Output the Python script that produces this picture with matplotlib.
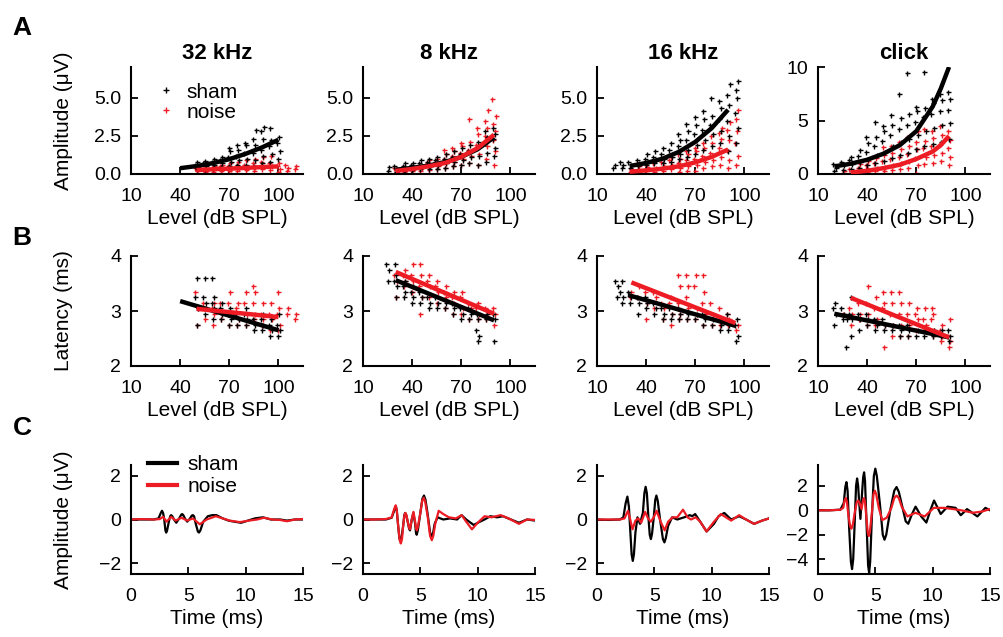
import matplotlib
matplotlib.use("Agg")
import matplotlib.pyplot as plt

plt.rcParams['font.family'] = ['Liberation Sans', 'DejaVu Sans']

RED = '#ed1c24'

# ---------------- data ----------------
# row A: amplitude (uV) per level (dB SPL)
a32_sham_lv = [50, 55, 60, 65, 70, 75, 80, 85, 90, 95, 100]
a32_sham = [[0.3, 0.45, 0.6, 0.8], [0.35, 0.5, 0.7, 0.85], [0.4, 0.6, 0.8, 1.0],
            [0.45, 0.7, 0.9, 1.1], [0.5, 0.8, 1.1, 1.5, 1.7], [0.6, 0.9, 1.2, 1.6, 1.9],
            [0.6, 1.0, 1.4, 1.9, 2.0], [0.5, 0.9, 1.4, 1.9, 2.3, 2.9], [0.7, 1.2, 1.6, 2.3, 2.8, 3.1],
            [0.8, 1.3, 1.8, 2.2, 3.0], [1.0, 1.5, 2.0, 2.4]]
a32_noise_lv = [50, 55, 60, 65, 70, 75, 80, 85, 90, 95, 100, 105, 110]
a32_noise = [[0.2, 0.3, 0.4], [0.1, 0.2, 0.35, 0.5], [0.15, 0.3, 0.4, 0.55], [0.2, 0.35, 0.5, 0.6],
             [0.2, 0.35, 0.5, 0.7], [0.2, 0.4, 0.55, 0.8], [0.25, 0.4, 0.6, 0.9], [0.2, 0.45, 0.7, 1.0],
             [0.3, 0.5, 0.8, 1.1], [0.25, 0.5, 0.7, 1.2], [0.1, 0.3, 0.5, 0.7], [0.2, 0.4, 0.6], [0.3, 0.5]]
a32_fit_sham = ([40, 50, 60, 70, 80, 90, 100], [0.38, 0.52, 0.71, 0.97, 1.32, 1.74, 2.24])
a32_fit_noise = ([50, 60, 70, 80, 90, 100], [0.26, 0.31, 0.35, 0.4, 0.45, 0.5])

a8_sham_lv = [25, 30, 35, 40, 45, 50, 55, 60, 65, 70, 75, 80, 85, 90]
a8_sham = [[0.2, 0.45], [0.15, 0.3, 0.5], [0.2, 0.35, 0.55, 0.7], [0.25, 0.4, 0.6, 0.75],
           [0.3, 0.5, 0.7, 0.9], [0.3, 0.55, 0.8, 1.0], [0.35, 0.6, 0.9, 1.1], [0.4, 0.7, 1.0, 1.3],
           [0.5, 0.8, 1.1, 1.5], [0.6, 0.9, 1.3, 1.7], [0.7, 1.1, 1.5, 1.9], [0.6, 1.2, 1.7, 2.1],
           [0.8, 1.4, 2.0, 2.4, 2.8], [1.2, 1.7, 2.3, 2.6, 3.0]]
a8_noise_lv = [30, 35, 40, 45, 50, 55, 60, 65, 70, 75, 80, 85, 90]
a8_noise = [[0.1, 0.25, 0.4], [0.15, 0.3, 0.45], [0.2, 0.35, 0.5], [0.2, 0.4, 0.6],
            [0.25, 0.5, 0.7, 0.9], [0.3, 0.55, 0.8, 1.0], [0.4, 0.7, 1.0, 1.3, 1.6],
            [0.5, 0.8, 1.2, 1.5, 1.7], [0.6, 1.0, 1.4, 1.8, 2.0], [0.7, 1.2, 1.6, 2.1, 3.6],
            [0.6, 1.3, 1.9, 2.6, 3.0], [1.0, 1.8, 2.5, 3.0, 3.5, 4.2], [0.6, 1.5, 2.2, 2.8, 3.3, 3.8, 4.9]]
a8_fit_sham = ([30, 40, 50, 60, 70, 80, 90], [0.28, 0.4, 0.55, 0.78, 1.12, 1.62, 2.4])
a8_fit_noise = ([30, 40, 50, 60, 70, 80, 90], [0.2, 0.33, 0.5, 0.72, 1.12, 1.7, 2.57])

a16_sham_lv = [20, 25, 30, 35, 40, 45, 50, 55, 60, 65, 70, 75, 80, 85, 90, 95]
a16_sham = [[0.4, 0.6], [0.4, 0.6, 0.8], [0.4, 0.6, 0.8], [0.5, 0.7, 0.9], [0.6, 0.8, 1.0, 1.3],
            [0.7, 0.9, 1.1, 1.5], [0.7, 1.0, 1.3, 1.7], [0.8, 1.1, 1.6, 2.0], [1.0, 1.3, 1.8, 2.2, 2.6],
            [1.1, 1.6, 2.2, 2.8, 3.3], [1.3, 1.9, 2.6, 3.2, 3.7], [1.6, 2.2, 2.9, 3.6, 4.1],
            [1.8, 2.6, 3.2, 3.8, 5.0], [2.0, 2.8, 3.6, 4.3, 4.8], [1.5, 2.5, 3.5, 4.5, 5.2, 5.9],
            [2.0, 3.0, 4.0, 5.0, 5.5, 6.1]]
a16_noise_lv = [30, 35, 40, 45, 50, 55, 60, 65, 70, 75, 80, 85, 90, 95]
a16_noise = [[0.1, 0.3], [0.2, 0.5], [0.2, 0.45, 0.7], [0.15, 0.4, 0.7], [0.2, 0.5, 0.8],
             [0.3, 0.6, 0.9, 1.1], [0.1, 0.4, 0.7, 1.0, 1.3], [0.2, 0.5, 0.9, 1.3, 1.5],
             [0.2, 0.6, 1.0, 1.5, 1.7], [0.4, 0.8, 1.2, 1.7, 2.0], [0.5, 0.9, 1.4, 2.0, 2.5],
             [0.6, 1.1, 1.7, 2.3, 2.7, 3.0], [0.4, 0.9, 1.6, 2.2, 2.9, 3.4], [0.6, 1.2, 2.0, 2.8, 3.6, 4.2]]
a16_fit_sham = ([30, 40, 50, 60, 70, 80, 90], [0.52, 0.72, 1.0, 1.45, 2.1, 3.0, 4.2])
a16_fit_noise = ([30, 40, 50, 60, 70, 80, 90], [0.15, 0.24, 0.35, 0.5, 0.76, 1.12, 1.6])

ack_sham_lv = [20, 25, 30, 35, 40, 45, 50, 55, 60, 65, 70, 75, 80, 85, 90]
ack_sham = [[0.3, 0.6, 0.9], [0.4, 0.8, 1.1], [0.5, 0.9, 1.3, 1.6], [0.6, 1.1, 1.7, 2.2],
            [0.8, 1.4, 2.1, 2.9, 3.5], [1.0, 1.8, 2.6, 3.5, 4.9], [1.2, 2.1, 3.1, 4.0, 4.5],
            [1.5, 2.6, 3.6, 4.6, 5.5], [1.8, 3.0, 4.2, 5.2, 7.5], [2.0, 3.3, 4.6, 5.6, 9.4],
            [2.3, 3.6, 4.9, 5.9, 6.3], [2.6, 4.0, 5.3, 6.2, 9.5], [2.8, 4.3, 5.6, 6.6, 7.0],
            [3.0, 4.6, 5.9, 6.9, 7.5], [3.3, 4.8, 6.0, 7.0, 7.7]]
ack_noise_lv = [25, 30, 35, 40, 45, 50, 55, 60, 65, 70, 75, 80, 85, 90]
ack_noise = [[0.1, 0.3], [0.1, 0.3, 0.5], [0.2, 0.4, 0.6, 0.9], [0.2, 0.5, 0.8, 1.2],
             [0.3, 0.6, 1.0, 1.5], [0.3, 0.7, 1.2, 1.8, 2.5], [0.4, 0.8, 1.4, 2.0, 2.6],
             [0.5, 1.0, 1.6, 2.3, 3.0], [0.6, 1.2, 1.9, 2.6, 3.5], [0.1, 0.8, 1.5, 2.3, 3.0, 4.0],
             [0.9, 1.6, 2.4, 3.1, 4.2], [1.0, 1.8, 2.6, 3.4, 4.0], [1.2, 2.0, 2.8, 3.6, 4.5],
             [0.8, 1.6, 2.4, 3.2, 4.0]]
ack_fit_sham = ([20, 30, 40, 50, 60, 70, 80, 85, 90], [0.71, 0.96, 1.33, 1.9, 2.7, 4.0, 6.3, 8.0, 10.0])
ack_fit_noise = ([30, 40, 50, 60, 70, 80, 85, 90], [0.15, 0.3, 0.55, 0.87, 1.4, 2.1, 2.7, 3.55])

# row B: latency (ms) per level
l32_sham_lv = [50, 55, 60, 65, 70, 75, 80, 85, 90, 95, 100]
l32_sham = [[2.75, 3.05, 3.25, 3.6], [2.95, 3.15, 3.25, 3.6], [2.85, 3.05, 3.15, 3.25, 3.6],
            [2.85, 2.95, 3.05, 3.15], [2.75, 2.85, 2.95, 3.05], [2.75, 2.85, 2.95],
            [2.75, 2.85, 2.95, 3.05], [2.65, 2.75, 2.85], [2.65, 2.75, 2.85, 2.95],
            [2.55, 2.65, 2.75, 2.85], [2.55, 2.65, 2.75, 2.95]]
l32_noise_lv = [50, 55, 60, 65, 70, 75, 80, 85, 90, 95, 100, 105, 110]
l32_noise = [[2.75, 3.05, 3.35], [2.85, 3.05, 3.15], [2.75, 2.95, 3.05, 3.15], [2.85, 2.95, 3.15],
             [2.75, 2.95, 3.15, 3.35], [2.75, 2.85, 3.05, 3.15], [2.75, 2.95, 3.15, 3.35],
             [2.85, 2.95, 3.15, 3.35, 3.45], [2.75, 2.85, 2.95, 3.15], [2.65, 2.85, 2.95, 3.15],
             [2.65, 2.75, 2.95, 3.05, 3.35], [2.95, 3.05], [2.85, 2.95]]
l32_fit_sham = ([40, 100], [3.18, 2.65])
l32_fit_noise = ([50, 100], [3.04, 2.89])

l8_sham_lv = [25, 30, 35, 40, 45, 50, 55, 60, 65, 70, 75, 80, 85, 90]
l8_sham = [[3.55, 3.75, 3.85], [3.25, 3.45, 3.55, 3.65, 3.85], [3.25, 3.35, 3.45, 3.55],
           [3.15, 3.25, 3.35, 3.45], [3.15, 3.25, 3.35], [3.05, 3.15, 3.25], [3.05, 3.15, 3.25],
           [3.05, 3.15], [2.95, 3.05, 3.15], [2.85, 2.95, 3.05], [2.85, 2.95, 3.05],
           [2.45, 2.55, 2.65, 2.85, 2.95], [2.85, 2.95], [2.45, 2.85, 2.95]]
l8_noise_lv = [30, 35, 40, 45, 50, 55, 60, 65, 70, 75, 80, 85, 90]
l8_noise = [[3.25, 3.55, 3.65], [3.45, 3.55, 3.65, 3.75], [3.35, 3.55, 3.65, 3.85],
            [2.95, 3.25, 3.45, 3.65, 3.85], [3.25, 3.45, 3.55, 3.65], [3.15, 3.35, 3.45, 3.55],
            [3.05, 3.25, 3.35, 3.45], [2.95, 3.15, 3.25, 3.35], [2.95, 3.05, 3.25, 3.35],
            [2.85, 3.05, 3.15], [2.85, 2.95, 3.05, 3.15], [2.85, 2.95, 3.05], [2.75, 2.95, 3.05]]
l8_fit_sham = ([30, 90], [3.56, 2.83])
l8_fit_noise = ([30, 90], [3.71, 2.95])

l16_sham_lv = [22, 25, 30, 35, 40, 45, 50, 55, 60, 65, 70, 75, 80, 85, 90, 95]
l16_sham = [[3.25, 3.45, 3.55], [3.15, 3.25, 3.35, 3.55], [3.15, 3.25, 3.35], [2.95, 3.15, 3.25],
            [3.05, 3.15, 3.25], [2.95, 3.05, 3.15], [2.85, 2.95, 3.05], [2.85, 2.95, 3.05],
            [2.85, 2.95, 3.05], [2.85, 2.95], [2.85, 2.95], [2.75, 2.85, 2.95], [2.75, 2.85],
            [2.65, 2.75, 2.85], [2.65, 2.75, 2.95], [2.45, 2.55, 2.75, 2.85]]
l16_noise_lv = [30, 35, 40, 45, 50, 55, 60, 65, 70, 75, 80, 85, 90, 95]
l16_noise = [[3.25, 3.35], [3.25, 3.45], [2.85, 3.15, 3.35], [3.05, 3.25, 3.35], [2.85, 3.05, 3.15],
             [2.75, 2.95, 3.15, 3.25], [2.85, 2.95, 3.15, 3.45, 3.65], [2.85, 3.05, 3.25, 3.45, 3.65],
             [2.85, 3.05, 3.45, 3.65], [2.75, 2.95, 3.15, 3.35, 3.65], [2.75, 2.95, 3.15],
             [2.75, 2.85, 3.05], [2.75, 2.85, 2.95], [2.65, 2.75]]
l16_fit_sham = ([29, 94.5], [3.29, 2.73])
l16_fit_noise = ([31, 94.5], [3.52, 2.78])

lck_sham_lv = [20, 25, 27, 30, 35, 40, 45, 50, 55, 60, 65, 70, 75, 80, 85, 90]
lck_sham = [[2.75, 2.95, 3.05, 3.15], [2.85, 2.95, 3.05], [2.35, 2.85], [2.55, 2.85, 2.95, 3.25],
            [2.65, 2.85, 2.95], [2.75, 2.85, 2.95], [2.65, 2.75, 2.85], [2.65, 2.75, 2.85],
            [2.65, 2.75], [2.55, 2.65, 2.75], [2.55, 2.65, 2.75], [2.55, 2.65], [2.55, 2.65],
            [2.55, 2.65], [2.55, 2.65], [2.45, 2.55, 2.65]]
lck_noise_lv = [25, 30, 35, 40, 45, 50, 55, 60, 65, 70, 75, 80, 85, 90]
lck_noise = [[2.95], [2.75, 2.95, 3.05], [2.85, 2.95, 3.15], [2.75, 2.95, 3.15, 3.45],
             [2.75, 2.85, 3.05, 3.25], [2.35, 2.75, 3.05, 3.15, 3.35], [2.55, 2.75, 2.95, 3.15, 3.35],
             [2.55, 2.75, 2.95, 3.15, 3.35], [2.55, 2.75, 2.95, 3.15], [2.65, 2.85, 2.95, 3.05],
             [2.65, 2.75, 2.85, 3.05], [2.55, 2.65, 2.85, 2.95, 3.05], [2.45, 2.55, 2.65, 2.75],
             [2.35, 2.45, 2.55, 2.85]]
lck_fit_sham = ([20, 90], [2.95, 2.52])
lck_fit_noise = ([30, 90], [3.24, 2.52])

# row C: mean waveforms (time ms, amplitude uV)
w32_sham = [(0, 0), (1, 0), (2, 0), (2.4, 0.05), (2.6, 0.3), (2.7, 0.4), (2.8, 0.3), (2.9, 0.0),
            (3.0, -0.5), (3.07, -0.6), (3.15, -0.5), (3.3, -0.1), (3.42, 0.15), (3.5, 0.2),
            (3.6, 0.15), (3.75, 0.0), (3.95, -0.15), (4.2, 0.05), (4.38, 0.22), (4.47, 0.25),
            (4.56, 0.2), (4.7, 0.05), (4.9, -0.1), (5.15, 0.05), (5.3, 0.18), (5.4, 0.2),
            (5.5, 0.15), (5.65, -0.2), (5.83, -0.55), (5.93, -0.6), (6.05, -0.5), (6.3, -0.1),
            (6.7, 0.15), (7.1, 0.2), (7.45, 0.2), (8.0, 0.05), (8.5, -0.05), (9.0, -0.1),
            (9.6, -0.15), (10.2, -0.05), (10.8, 0.05), (11.5, 0.1), (12.2, 0.0), (13.0, 0.0),
            (13.6, -0.05), (14.3, 0.0), (15, 0)]
w32_noise = [(0, 0), (1, 0.02), (2, 0), (2.5, 0.02), (2.8, 0.12), (3.1, -0.1), (3.5, 0.12),
             (3.9, -0.05), (4.4, 0.08), (4.9, -0.05), (5.4, 0.05), (6.0, -0.22), (6.6, 0.0),
             (7.4, 0.15), (8.0, 0.05), (8.6, -0.05), (9.5, -0.12), (10.3, -0.05), (11.0, 0.0),
             (11.6, 0.08), (12.3, 0.0), (13.0, -0.02), (13.6, -0.08), (14.3, 0.0), (15, 0.02)]
w8_sham = [(0, 0), (1, 0), (2, 0), (2.5, 0.08), (2.75, 0.45), (2.87, 0.6), (2.95, 0.4), (3.05, -0.2),
           (3.17, -0.85), (3.27, -1.0), (3.37, -0.8), (3.5, -0.3), (3.6, 0.2), (3.68, 0.3),
           (3.77, 0.2), (3.9, -0.1), (4.02, -0.42), (4.1, -0.5), (4.25, 0.0), (4.39, 0.3),
           (4.55, -0.2), (4.62, -0.6), (4.68, -0.7), (4.78, -0.5), (5.0, 0.3), (5.18, 0.95),
           (5.32, 1.1), (5.45, 0.9), (5.65, 0.2), (5.85, -0.6), (6.0, -0.8), (6.12, -0.6),
           (6.25, -0.2), (6.5, 0.1), (7.0, 0.0), (7.6, 0.05), (8.2, 0.0), (8.6, 0.2), (9.0, 0.0),
           (9.65, -0.25), (10.2, -0.1), (10.6, 0.0), (11.1, 0.15), (11.7, 0.1), (12.2, 0.15),
           (12.9, 0.0), (13.6, -0.15), (14.3, 0.0), (15, -0.05)]
w8_noise = [(0, 0), (1, 0), (2, 0.02), (2.5, 0.1), (2.73, 0.5), (2.85, 0.65), (2.94, 0.45),
            (3.05, -0.2), (3.2, -0.95), (3.3, -1.1), (3.4, -0.9), (3.5, -0.3), (3.62, 0.2),
            (3.7, 0.3), (3.79, 0.2), (3.9, -0.1), (4.02, -0.38), (4.1, -0.45), (4.25, 0.0),
            (4.4, 0.35), (4.55, -0.1), (4.63, -0.42), (4.7, -0.5), (4.8, -0.3), (5.0, 0.3),
            (5.17, 0.88), (5.3, 1.0), (5.43, 0.8), (5.65, 0.1), (5.85, -0.75), (6.0, -0.95),
            (6.13, -0.75), (6.3, -0.2), (6.6, 0.4), (7.0, 0.25), (7.5, 0.1), (8.1, 0.05),
            (8.6, 0.2), (9.0, -0.1), (9.5, -0.45), (10.0, -0.15), (10.6, 0.15), (11.2, 0.1),
            (12.0, 0.2), (12.7, 0.05), (13.6, -0.2), (14.3, 0.0), (15, -0.02)]
w16_sham = [(0, 0), (1, -0.02), (2, 0.0), (2.3, 0.1), (2.5, 0.75), (2.65, 1.05), (2.78, 0.6),
            (2.9, -0.5), (3.02, -1.6), (3.12, -1.9), (3.22, -1.6), (3.35, -0.6), (3.53, 0.1),
            (3.75, -0.2), (4.0, 0.3), (4.13, 1.2), (4.24, 1.5), (4.35, 1.2), (4.47, 0.2),
            (4.6, -0.7), (4.7, -0.9), (4.8, -0.65), (4.95, 0.1), (5.08, 0.9), (5.18, 1.1),
            (5.3, 0.85), (5.5, 0.0), (5.75, -0.9), (5.88, -1.05), (6.0, -0.85), (6.2, -0.3),
            (6.55, 0.1), (7.0, 0.0), (7.6, 0.1), (8.1, 0.2), (8.3, 0.15), (8.56, 0.25), (9.0, -0.1),
            (9.56, -0.55), (10.2, -0.2), (10.6, 0.15), (11.1, 0.3), (11.7, 0.0), (12.4, 0.15),
            (13.0, 0.0), (13.7, -0.2), (14.4, -0.05), (15, 0.05)]
w16_noise = [(0, 0), (1, 0), (2, 0), (2.4, 0.05), (2.7, 0.4), (2.9, 0.0), (3.1, -0.45),
             (3.35, -0.05), (3.6, 0.05), (3.85, -0.15), (4.2, 0.35), (4.45, 0.05), (4.7, -0.1),
             (4.95, 0.1), (5.2, 0.4), (5.55, -0.1), (5.9, -0.5), (6.2, -0.1), (6.6, 0.1), (7.0, 0.1),
             (7.5, 0.45), (7.9, 0.1), (8.2, 0.0), (8.6, 0.1), (9.0, -0.1), (9.55, -0.55),
             (10.2, -0.1), (10.8, 0.25), (11.7, -0.05), (12.4, 0.2), (13.0, 0.0), (13.7, -0.2),
             (14.4, -0.05), (15, 0.05)]
wck_sham = [(0, 0), (1, 0), (1.95, 0.05), (2.25, 0.6), (2.38, 1.9), (2.48, 2.3), (2.58, 1.6),
            (2.72, -1.5), (2.87, -4.2), (2.97, -4.8), (3.07, -4.0), (3.2, -1.0), (3.32, 2.0),
            (3.41, 2.6), (3.5, 2.0), (3.58, 0.8), (3.70, -0.7), (3.85, 1.5), (3.94, 2.7),
            (4.02, 3.1), (4.1, 2.4), (4.25, -1.5), (4.37, -4.5), (4.46, -5.1), (4.55, -4.2),
            (4.7, -0.5), (4.87, 2.8), (5.0, 3.4), (5.13, 2.8), (5.4, 0.5), (5.65, -2.0),
            (5.8, -2.4), (5.95, -2.0), (6.3, 0.0), (6.65, 1.6), (6.85, 1.9), (7.05, 1.5),
            (7.35, 0.3), (7.65, -0.9), (7.87, -1.1), (8.2, -0.3), (8.51, 0.3), (9.0, -0.5),
            (9.45, -1.0), (9.8, 0.0), (10.12, 0.8), (10.7, -0.3), (11.3, 0.3), (12.0, 0.2),
            (12.45, -0.4), (13.0, 0.1), (13.9, -0.5), (14.6, 0.2), (15, 0.0)]
wck_noise = [(0, 0), (1, 0), (1.95, 0.05), (2.2, 0.2), (2.32, 0.8), (2.42, 1.0), (2.52, 0.7),
             (2.65, -0.4), (2.8, -1.3), (2.92, -1.5), (3.05, -1.1), (3.2, -0.2), (3.38, 0.65),
             (3.5, 0.8), (3.62, 0.6), (3.8, 0.1), (3.93, 0.85), (4.02, 1.0), (4.11, 0.6),
             (4.22, -0.6), (4.34, -1.8), (4.43, -2.1), (4.53, -1.7), (4.7, -0.2), (4.84, 1.3),
             (4.96, 1.6), (5.08, 1.3), (5.3, 0.2), (5.6, -0.8), (6.0, -0.6), (6.4, 0.2), (6.65, 1.0),
             (6.85, 1.2), (7.05, 1.0), (7.3, 0.3), (7.8, -0.5), (8.5, -0.2), (9.3, -0.5),
             (10.1, 0.2), (11.0, 0.2), (11.8, 0.1), (12.5, 0.0), (13.5, -0.2), (14.3, -0.1), (15, 0.1)]

titles = ['32 kHz', '8 kHz', '16 kHz', 'click']

amp_panels = [
    (a32_sham_lv, a32_sham, a32_noise_lv, a32_noise, a32_fit_sham, a32_fit_noise),
    (a8_sham_lv, a8_sham, a8_noise_lv, a8_noise, a8_fit_sham, a8_fit_noise),
    (a16_sham_lv, a16_sham, a16_noise_lv, a16_noise, a16_fit_sham, a16_fit_noise),
    (ack_sham_lv, ack_sham, ack_noise_lv, ack_noise, ack_fit_sham, ack_fit_noise),
]
lat_panels = [
    (l32_sham_lv, l32_sham, l32_noise_lv, l32_noise, l32_fit_sham, l32_fit_noise),
    (l8_sham_lv, l8_sham, l8_noise_lv, l8_noise, l8_fit_sham, l8_fit_noise),
    (l16_sham_lv, l16_sham, l16_noise_lv, l16_noise, l16_fit_sham, l16_fit_noise),
    (lck_sham_lv, lck_sham, lck_noise_lv, lck_noise, lck_fit_sham, lck_fit_noise),
]
waves = [(w32_sham, w32_noise), (w8_sham, w8_noise), (w16_sham, w16_noise), (wck_sham, wck_noise)]

TICK_FS = 14
LAB_FS = 15


def spread(levels, groups, step=0.8):
    # small horizontal offsets so points at one level do not sit on top of each other
    offs = [0, 1, -1, 0.5, -0.5, 1.5, -1.5]
    xs, ys = [], []
    for lv, vals in zip(levels, groups):
        for k, v in enumerate(vals):
            xs.append(lv + offs[k % len(offs)] * step)
            ys.append(v)
    return xs, ys


def style(ax):
    ax.spines['top'].set_visible(False)
    ax.spines['right'].set_visible(False)
    ax.spines['left'].set_linewidth(1.5)
    ax.spines['bottom'].set_linewidth(1.5)
    ax.tick_params(direction='in', length=5, width=1.3, labelsize=TICK_FS)
    ax.tick_params(axis='x', pad=10)
    ax.tick_params(axis='y', pad=7)


fig = plt.figure(figsize=(10.04, 6.37), dpi=100)
W, H = 1004.0, 637.0
lefts = [131, 363, 597, 818]
axw = 172


def make_ax(col, top, bottom):
    return fig.add_axes([lefts[col] / W, 1 - bottom / H, axw / W, (bottom - top) / H])


# row A
for c, (slv, s, nlv, n, fs, fn) in enumerate(amp_panels):
    ax = make_ax(c, 67, 174)
    style(ax)
    x, y = spread(nlv, n)
    ax.plot(x, y, '+', color=RED, ms=3.6, mew=1.0, label='noise', zorder=2)
    x, y = spread(slv, s)
    ax.plot(x, y, '+', color='black', ms=3.6, mew=1.0, label='sham', zorder=3)
    ax.plot(fs[0], fs[1], '-', color='black', lw=3.2, zorder=4, solid_capstyle='butt')
    ax.plot(fn[0], fn[1], '-', color=RED, lw=3.2, zorder=5, solid_capstyle='butt')
    ax.set_xlim(10, 115)
    ax.set_xticks([10, 40, 70, 100])
    if c == 3:
        ax.set_ylim(0, 10)
        ax.set_yticks([0, 5, 10])
    else:
        ax.set_ylim(0, 7)
        ax.set_yticks([0, 2.5, 5])
        ax.set_yticklabels(['0.0', '2.5', '5.0'])
    ax.set_xlabel('Level (dB SPL)', fontsize=LAB_FS, labelpad=3)
    ax.set_title(titles[c], fontsize=16, fontweight='bold', pad=6)
    if c == 0:
        ax.set_ylabel('Amplitude (μV)', fontsize=LAB_FS)
        ax.yaxis.set_label_coords(-0.335, 0.5)
        h, l = ax.get_legend_handles_labels()
        ax.legend(h[::-1], l[::-1], loc='upper left', bbox_to_anchor=(0.08, 0.97),
                  frameon=False, fontsize=LAB_FS, handlelength=0.8, handletextpad=0.6,
                  labelspacing=0.05, borderaxespad=0.2, markerscale=1.3)

# row B
for c, (slv, s, nlv, n, fs, fn) in enumerate(lat_panels):
    ax = make_ax(c, 256, 366)
    style(ax)
    x, y = spread(nlv, n)
    ax.plot(x, y, '+', color=RED, ms=3.6, mew=1.0, zorder=2)
    x, y = spread(slv, s)
    ax.plot(x, y, '+', color='black', ms=3.6, mew=1.0, zorder=3)
    ax.plot(fs[0], fs[1], '-', color='black', lw=3.2, zorder=4, solid_capstyle='butt')
    ax.plot(fn[0], fn[1], '-', color=RED, lw=3.2, zorder=5, solid_capstyle='butt')
    ax.set_xlim(10, 115)
    ax.set_xticks([10, 40, 70, 100])
    ax.set_ylim(2, 4)
    ax.set_yticks([2, 3, 4])
    ax.set_xlabel('Level (dB SPL)', fontsize=LAB_FS, labelpad=3)
    if c == 0:
        ax.set_ylabel('Latency (ms)', fontsize=LAB_FS)
        ax.yaxis.set_label_coords(-0.335, 0.5)

# row C
for c, (ws, wn) in enumerate(waves):
    ax = make_ax(c, 465, 574)
    style(ax)
    ax.plot([p[0] for p in ws], [p[1] for p in ws], color='black', lw=1.6, label='sham')
    ax.plot([p[0] for p in wn], [p[1] for p in wn], color=RED, lw=1.6, label='noise')
    ax.set_xlim(0, 15)
    ax.set_xticks([0, 5, 10, 15])
    if c == 3:
        ax.set_ylim(-5.2, 3.7)
        ax.set_yticks([-4, -2, 0, 2])
    else:
        ax.set_ylim(-2.5, 2.5)
        ax.set_yticks([-2, 0, 2])
    ax.set_xlabel('Time (ms)', fontsize=LAB_FS, labelpad=3)
    if c == 0:
        ax.set_ylabel('Amplitude (μV)', fontsize=LAB_FS)
        ax.yaxis.set_label_coords(-0.335, 0.5)
        leg = ax.legend(loc='upper left', bbox_to_anchor=(0.05, 1.17), frameon=False, fontsize=LAB_FS,
                        handlelength=1.4, handletextpad=0.5, labelspacing=0.15, borderaxespad=0.0)
        for line in leg.get_lines():
            line.set_linewidth(3)

for letter, ypx in [('A', 28), ('B', 238), ('C', 428)]:
    fig.text(22 / W, 1 - ypx / H, letter, fontsize=19, fontweight='bold', ha='center', va='center')

fig.savefig('out.png', dpi=100)
